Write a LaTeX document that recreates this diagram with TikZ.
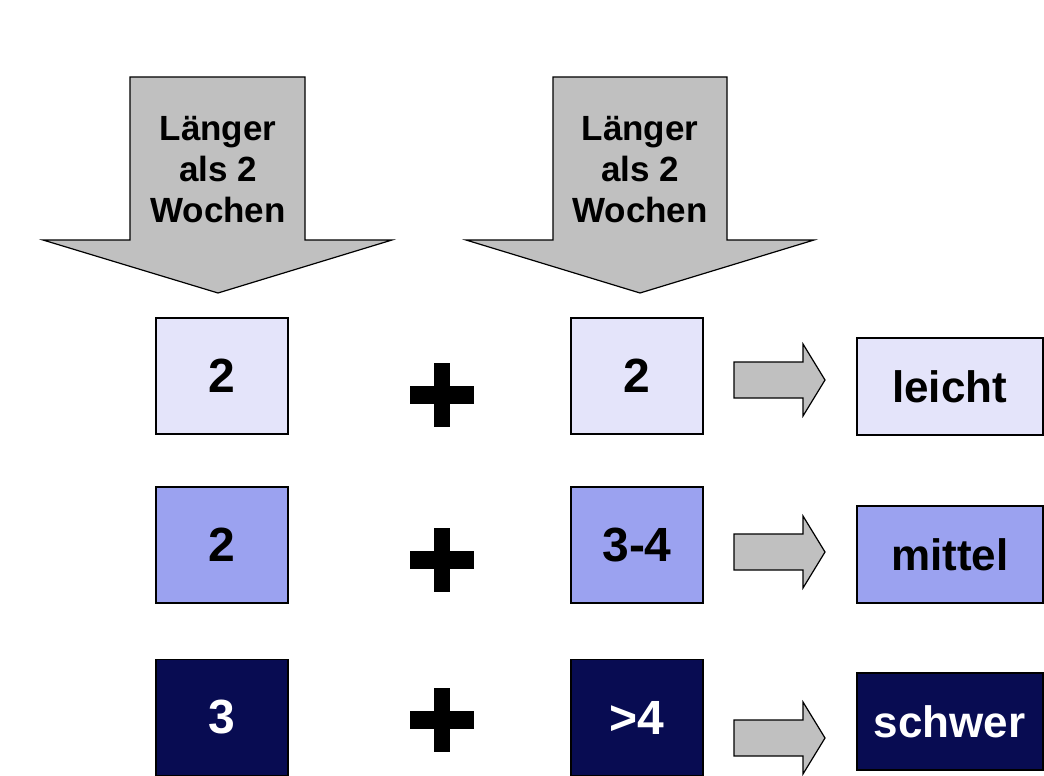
\documentclass[tikz,border=0pt]{standalone}
\usepackage{fontspec}
\setmainfont{Liberation Sans}
\definecolor{lightb}{RGB}{228,228,250}
\definecolor{midb}{RGB}{155,162,240}
\definecolor{darkb}{RGB}{8,12,82}
\definecolor{garrowc}{RGB}{192,192,192}
\begin{document}
\begin{tikzpicture}[x=1pt,y=-1pt,
  box/.style={draw=black,line width=1.5pt,inner sep=0pt,font=\fontsize{48}{52}\selectfont\bfseries},
  numbox/.style={box,minimum width=132pt,minimum height=116pt},
  resbox/.style={box,minimum width=186pt,minimum height=97pt,font=\fontsize{44}{48}\selectfont\bfseries},
  bigarrow/.style={draw=black,line width=1.2pt,fill=garrowc},
  arrowtext/.style={align=center,font=\fontsize{35}{41}\selectfont\bfseries},
  plusbar/.style={fill=black,draw=none},
  rarrow/.pic={\draw[bigarrow] (0,-18) -- (69,-18) -- (69,-36) -- (91,0) -- (69,36) -- (69,18) -- (0,18) -- cycle;},
  plussign/.pic={\fill (-32,-9) rectangle (32,9); \fill (-8,-32) rectangle (8,32);}
]
\useasboundingbox[fill=white] (0,0) rectangle (1044,776);
% big down arrows
\draw[bigarrow] (130,77) -- (305,77) -- (305,240) -- (392,240) -- (218,293) -- (43,240) -- (130,240) -- cycle;
\node[arrowtext] (t1) at (218,170) {Länger\\als 2\\Wochen};
\draw[bigarrow] (553,77) -- (727,77) -- (727,240) -- (814,240) -- (640,293) -- (466,240) -- (553,240) -- cycle;
\node[arrowtext] (t2) at (640,170) {Länger\\als 2\\Wochen};
% row 1
\node[numbox,fill=lightb] (a1) at (222,376) {2};
\node[numbox,fill=lightb] (b1) at (637,376) {2};
\node[resbox,fill=lightb,anchor=west] (r1) at (856,386.5) {leicht};
% row 2
\node[numbox,fill=midb] (a2) at (222,545) {2};
\node[numbox,fill=midb] (b2) at (637,545) {3-4};
\node[resbox,fill=midb,anchor=west] (r2) at (856,554.5) {mittel};
% row 3
\node[numbox,fill=darkb,text=white] (a3) at (222,717.5) {3};
\node[numbox,fill=darkb,text=white] (b3) at (637,717.5) {>4};
\node[resbox,fill=darkb,text=white,anchor=west] (r3) at (856,721.5) {schwer};
% plus signs
\pic at (442,395) {plussign};
\pic at (442,560) {plussign};
\pic at (442,720) {plussign};
% small arrows
\pic at (734,380) {rarrow};
\pic at (734,552) {rarrow};
\pic at (734,738) {rarrow};
\end{tikzpicture}
\end{document}
